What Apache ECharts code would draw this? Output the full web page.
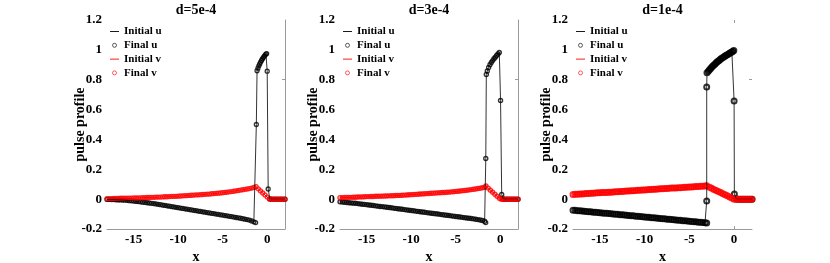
<!DOCTYPE html>
<html><head><meta charset="utf-8">
<script src="https://cdn.jsdelivr.net/npm/echarts@6/dist/echarts.min.js"></script>
<style>html,body{margin:0;padding:0;background:#fff}#c{width:830px;height:263px}</style>
</head><body><div id="c"></div>
<script>
// ---- data ----
const titles = ['d=5e-4', 'd=3e-4', 'd=1e-4'];
const legendNames = ['Initial u', 'Final u', 'Initial v', 'Final v'];
const X_START = -18, X_STEP = 0.25;   // sampling grid of the smooth tails

// d = 5e-4
const uTail_5e4 = [-0.002,-0.002,-0.003,-0.003,-0.004,-0.005,-0.005,-0.006,-0.007,-0.008,-0.010,-0.011,-0.013,
 -0.015,-0.016,-0.018,-0.020,-0.022,-0.024,-0.026,-0.028,-0.030,-0.032,-0.035,-0.037,-0.040,-0.042,-0.045,-0.047,-0.050,-0.052,-0.055,-0.057,
 -0.060,-0.062,-0.065,-0.067,-0.070,-0.072,-0.075,-0.077,-0.080,-0.082,-0.085,-0.087,-0.090,-0.092,-0.095,-0.097,-0.100,-0.102,-0.105,-0.107,
 -0.110,-0.112,-0.115,-0.117,-0.120,-0.123,-0.125,-0.128,-0.131,-0.134,-0.137,-0.140,-0.146,-0.152];
const uPulse_5e4 = [[-1.3,-0.157],[-1.22,0.50],[-1.14,0.86],[-1.04,0.877],[-0.94,0.893],[-0.84,0.906],[-0.74,0.918],[-0.64,0.929],
 [-0.54,0.939],[-0.44,0.948],[-0.34,0.957],[-0.24,0.965],[-0.14,0.972],[-0.06,0.975],[0.0,0.857],[0.11,0.068],[0.3,0.001],
 [0.5,0],[0.75,0],[1,0],[1.25,0],[1.5,0],[1.75,0],[2,0]];
const vTail_5e4 = [0.004,0.004,0.004,0.005,0.005,0.005,0.006,0.006,0.006,0.007,0.007,0.007,0.008,
 0.008,0.009,0.009,0.010,0.010,0.011,0.011,0.012,0.012,0.013,0.014,0.014,0.015,0.016,0.016,0.017,0.018,0.019,0.019,0.020,
 0.021,0.022,0.023,0.024,0.025,0.026,0.027,0.028,0.029,0.030,0.031,0.032,0.033,0.034,0.036,0.037,0.038,0.040,0.041,0.043,
 0.045,0.047,0.049,0.051,0.053,0.056,0.058,0.061,0.063,0.066,0.068,0.071,0.074,0.078,0.083];
const vFront_5e4 = [[-1.0,0.069],[-0.75,0.055],[-0.5,0.041],[-0.25,0.028],[0,0.014],[0.25,0.001],[0.5,0],[0.75,0],[1,0],[1.25,0],[1.5,0],[1.75,0],[2,0]];

// d = 3e-4
const uTail_3e4 = [-0.018,-0.019,-0.021,-0.022,-0.024,-0.025,-0.027,-0.028,-0.030,-0.032,-0.034,-0.035,-0.037,
 -0.039,-0.041,-0.043,-0.045,-0.047,-0.049,-0.050,-0.052,-0.054,-0.056,-0.058,-0.060,-0.062,-0.064,-0.066,-0.068,-0.070,-0.072,-0.074,-0.076,
 -0.078,-0.080,-0.082,-0.084,-0.086,-0.088,-0.090,-0.092,-0.094,-0.096,-0.098,-0.100,-0.102,-0.104,-0.106,-0.108,-0.110,-0.112,-0.114,-0.116,
 -0.118,-0.120,-0.122,-0.124,-0.126,-0.128,-0.130,-0.132,-0.135,-0.137,-0.140,-0.143,-0.148];
const uPulse_3e4 = [[-1.63,-0.157],[-1.62,0.272],[-1.56,0.835],[-1.45,0.858],[-1.3,0.882],[-1.15,0.900],[-1.0,0.915],[-0.85,0.928],
 [-0.7,0.940],[-0.55,0.951],[-0.4,0.962],[-0.25,0.972],[-0.1,0.982],[0.04,0.661],[0.17,0.031],[0.35,0.001],
 [0.5,0],[0.75,0],[1,0],[1.25,0],[1.5,0],[1.75,0],[2,0]];
const vTail_3e4 = [0.010,0.010,0.011,0.011,0.012,0.012,0.013,0.013,0.014,0.015,0.015,0.016,0.017,
 0.017,0.018,0.018,0.019,0.019,0.020,0.020,0.021,0.021,0.022,0.023,0.023,0.024,0.025,0.025,0.026,0.027,0.028,0.029,0.030,
 0.031,0.032,0.033,0.034,0.035,0.036,0.037,0.038,0.039,0.040,0.041,0.042,0.043,0.044,0.045,0.046,0.047,0.049,0.050,0.052,
 0.053,0.055,0.057,0.058,0.060,0.062,0.064,0.066,0.068,0.071,0.073,0.076,0.080];
const vFront_3e4 = [[-1.6,0.088],[-1.35,0.074],[-1.1,0.060],[-0.85,0.046],[-0.6,0.033],[-0.35,0.019],[-0.1,0.006],[0.1,0.0],
 [0.25,0],[0.5,0],[0.75,0],[1,0],[1.25,0],[1.5,0],[1.75,0],[2,0]];

// d = 1e-4
const uTail_1e4 = [-0.074,-0.075,-0.077,-0.078,-0.080,-0.081,-0.083,-0.084,-0.085,-0.087,-0.088,-0.090,-0.091,-0.093,-0.094,
 -0.095,-0.097,-0.098,-0.100,-0.101,-0.102,-0.104,-0.105,-0.107,-0.108,-0.110,-0.111,-0.112,-0.114,-0.115,
 -0.117,-0.118,-0.120,-0.121,-0.122,-0.124,-0.125,-0.127,-0.128,-0.130,-0.131,-0.132,-0.134,-0.135,-0.137,
 -0.138,-0.140,-0.141,-0.142,-0.144,-0.145,-0.147,-0.148,-0.149,-0.151,-0.152,-0.154,-0.155,-0.157,-0.158];
const uPulse_1e4 = [[-3.06,-0.160],[-3.06,-0.013],[-3.06,0.752],[-3.03,0.846],[-2.88,0.856],[-2.75,0.866],[-2.62,0.875],[-2.5,0.884],
 [-2.38,0.892],[-2.25,0.899],[-2.12,0.906],[-2,0.913],[-1.88,0.920],[-1.75,0.926],[-1.62,0.932],[-1.5,0.938],[-1.38,0.944],
 [-1.25,0.949],[-1.12,0.954],[-1,0.959],[-0.88,0.964],[-0.75,0.968],[-0.62,0.973],[-0.5,0.977],[-0.38,0.982],[-0.25,0.986],
 [-0.14,0.990],[-0.03,0.995],[0,0.658],[0.03,0.035],[0.25,0.001],[0.5,0],[0.75,0],[1,0],[1.25,0],[1.5,0],[1.75,0],[2,0]];
const vTail_1e4 = [0.031,0.032,0.033,0.034,0.035,0.036,0.037,0.038,0.039,0.040,0.041,0.042,0.043,0.044,0.045,
 0.045,0.046,0.047,0.048,0.049,0.050,0.051,0.052,0.053,0.054,0.055,0.056,0.057,0.058,0.059,
 0.060,0.061,0.062,0.063,0.064,0.065,0.066,0.067,0.068,0.069,0.070,0.071,0.072,0.073,0.074,
 0.074,0.075,0.076,0.077,0.078,0.079,0.080,0.081,0.082,0.083,0.084,0.085,0.086,0.087,0.088];
const vFront_1e4 = [[-3.06,0.089],[-2.75,0.080],[-2.5,0.073],[-2.25,0.065],[-2,0.058],[-1.75,0.051],[-1.5,0.044],[-1.25,0.036],
 [-1,0.029],[-0.75,0.022],[-0.5,0.015],[-0.25,0.007],[0,0.0],[0.25,0],[0.5,0],[0.75,0],[1,0],[1.25,0],[1.5,0],[1.75,0],[2,0]];

// ---- chart ----
const FONT = '"Liberation Serif","Times New Roman",serif';
const tail = vals => vals.map((v, i) => [X_START + i * X_STEP, v]);
const panels = [
  {uT: uTail_5e4, uP: uPulse_5e4, vT: vTail_5e4, vF: vFront_5e4, left: 107, right: 285, border: true, extraTicks: false, sym: 4, bw: 1.3},
  {uT: uTail_3e4, uP: uPulse_3e4, vT: vTail_3e4, vF: vFront_3e4, left: 340, right: 518, border: true, extraTicks: false, sym: 4, bw: 1.4},
  {uT: uTail_1e4, uP: uPulse_1e4, vT: vTail_1e4, vF: vFront_1e4, left: 573, right: 752, border: false, extraTicks: true, sym: 5, bw: 2}
];
const TOP = 20, BOTTOM = 229;
const txt = (size) => ({fontFamily: FONT, fontWeight: 'bold', fontSize: size, color: '#000'});
const LINE_ICON = 'path://M0,0H20V2H0Z';

const option = {animation: false, backgroundColor: '#fff', title: [], grid: [], xAxis: [], yAxis: [], legend: [], series: []};

panels.forEach((p, i) => {
  option.title.push({text: titles[i], left: (p.left + p.right) / 2, top: 3, textAlign: 'center', padding: 0, textStyle: txt(14)});
  option.grid.push({left: p.left, width: p.right - p.left, top: TOP, height: BOTTOM - TOP, containLabel: false, outerBoundsMode: 'none'});
  option.xAxis.push({
    type: 'value', gridIndex: i, min: -18, max: 2, splitNumber: 4, position: 'bottom',
    axisLine: {show: true, onZero: false, lineStyle: {color: '#9a9a9a', width: 1}},
    axisTick: p.extraTicks ? {show: true, inside: true, length: 3, customValues: [0], lineStyle: {color: '#9a9a9a'}} : {show: false},
    axisLabel: Object.assign({showMinLabel: false, showMaxLabel: false, margin: 4}, txt(13)),
    splitLine: {show: false},
    name: 'x', nameLocation: 'middle', nameGap: 21, nameMoveOverlap: false, nameTextStyle: txt(14)
  });
  option.yAxis.push({
    type: 'value', gridIndex: i, min: -0.2, max: 1.2, interval: 0.2, position: 'left',
    axisLine: {show: false, onZero: false}, axisTick: {show: false},
    axisLabel: Object.assign({margin: 5}, txt(13)),
    splitLine: {show: false},
    name: 'pulse profile', nameLocation: 'middle', nameGap: 20, nameMoveOverlap: false, nameTextStyle: txt(14)
  });
  option.yAxis.push({
    type: 'value', gridIndex: i, min: -0.2, max: 1.2, interval: 0.2, position: 'right',
    axisLine: {show: p.border, onZero: false, lineStyle: {color: '#9a9a9a', width: 1}},
    axisTick: {show: true, inside: true, length: 3, customValues: [0.8], lineStyle: {color: '#9a9a9a'}},
    axisLabel: {show: false}, splitLine: {show: false}
  });
  option.legend.push({
    left: p.left + 3, top: 26, orient: 'vertical', padding: 0, itemWidth: 9, itemHeight: 4, itemGap: 2.8,
    selectedMode: false, textStyle: Object.assign({lineHeight: 11}, txt(11)),
    data: [
      {name: legendNames[0], icon: LINE_ICON},
      {name: legendNames[1], icon: 'circle', itemStyle: {borderWidth: 0.8}},
      {name: legendNames[2], icon: LINE_ICON},
      {name: legendNames[3], icon: 'circle', itemStyle: {borderWidth: 0.8}}
    ]
  });
  const uData = tail(p.uT).concat(p.uP);
  const vData = tail(p.vT).concat(p.vF);
  const yi = 2 * i;
  option.series.push(
    {name: legendNames[0], type: 'line', xAxisIndex: i, yAxisIndex: yi, data: uData, symbol: 'none', showSymbol: false,
     lineStyle: {color: '#000', width: 0.8}, itemStyle: {color: '#000'}},
    {name: legendNames[1], type: 'scatter', xAxisIndex: i, yAxisIndex: yi, data: uData, symbol: 'circle', symbolSize: p.sym,
     itemStyle: {color: 'rgba(0,0,0,0)', borderColor: '#000', borderWidth: p.bw}},
    {name: legendNames[2], type: 'line', xAxisIndex: i, yAxisIndex: yi, data: vData, symbol: 'none', showSymbol: false,
     lineStyle: {color: '#ff0000', width: 1}, itemStyle: {color: '#ff0000'}},
    {name: legendNames[3], type: 'scatter', xAxisIndex: i, yAxisIndex: yi, data: vData, symbol: 'circle', symbolSize: p.sym,
     itemStyle: {color: 'rgba(0,0,0,0)', borderColor: '#ff0000', borderWidth: p.bw}}
  );
});
// top axis of the last panel (only a tick at x = 0 shows)
option.xAxis.push({
  type: 'value', gridIndex: 2, min: -18, max: 2, position: 'top',
  axisLine: {show: false, onZero: false},
  axisTick: {show: true, inside: true, length: 3, customValues: [0], lineStyle: {color: '#9a9a9a'}},
  axisLabel: {show: false}, splitLine: {show: false}
});

const chart = echarts.init(document.getElementById('c'), null, {renderer: 'canvas'});
chart.setOption(option);
</script></body></html>
